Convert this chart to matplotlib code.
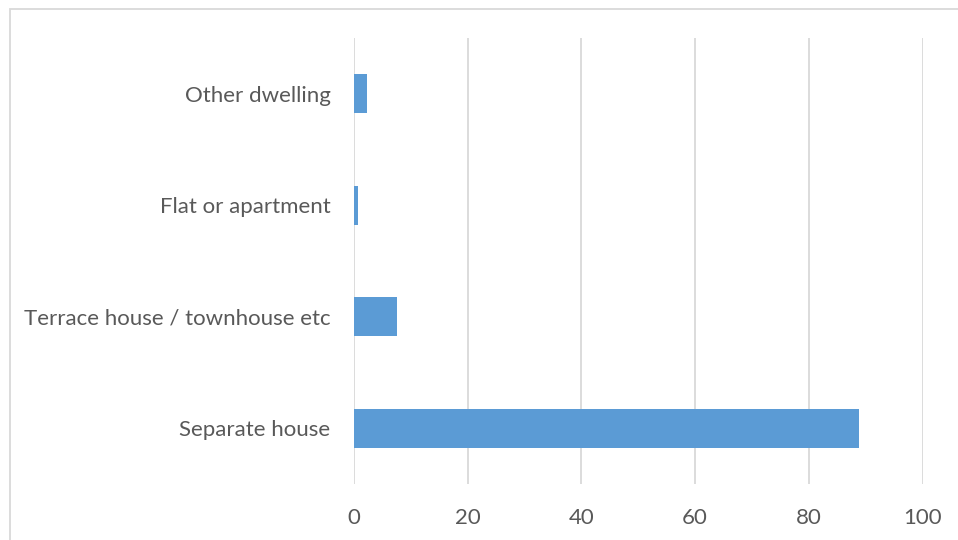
import matplotlib.pyplot as plt
from matplotlib.patches import Rectangle

categories = ['Separate house', 'Terrace house / townhouse etc', 'Flat or apartment', 'Other dwelling']
values = [88.8, 7.6, 0.75, 2.35]
xticks = [0, 20, 40, 60, 80, 100]

plt.rcParams['font.family'] = ['Lato', 'DejaVu Sans']
text_col = '#595959'

fig = plt.figure(figsize=(9.58, 5.40), dpi=100)
ax = fig.add_axes([354 / 958, (540 - 484) / 540, (922.5 - 354) / 958, (484 - 38) / 540])

ax.barh(range(len(categories)), values, height=0.35, color='#5B9BD5', zorder=3)

ax.set_xlim(0, 100)
ax.set_ylim(-0.5, 3.5)
ax.set_xticks(xticks)
ax.set_yticks(range(len(categories)))
ax.set_yticklabels(categories)
ax.grid(axis='x', color='#D9D9D9', linewidth=1.3, zorder=0)
for s in ax.spines.values():
    s.set_visible(False)
ax.tick_params(axis='both', length=0, labelsize=16, labelcolor=text_col)
ax.tick_params(axis='x', pad=17)
ax.tick_params(axis='y', pad=17)

# outer chart frame, only top and left edges fall inside the image
fig.patches.append(Rectangle((9.5 / 958, -0.1), 1.2, 1.1 - 8.5 / 540, transform=fig.transFigure,
                             fill=False, edgecolor='#D9D9D9', linewidth=1.3))

fig.savefig('out.png', dpi=100)
